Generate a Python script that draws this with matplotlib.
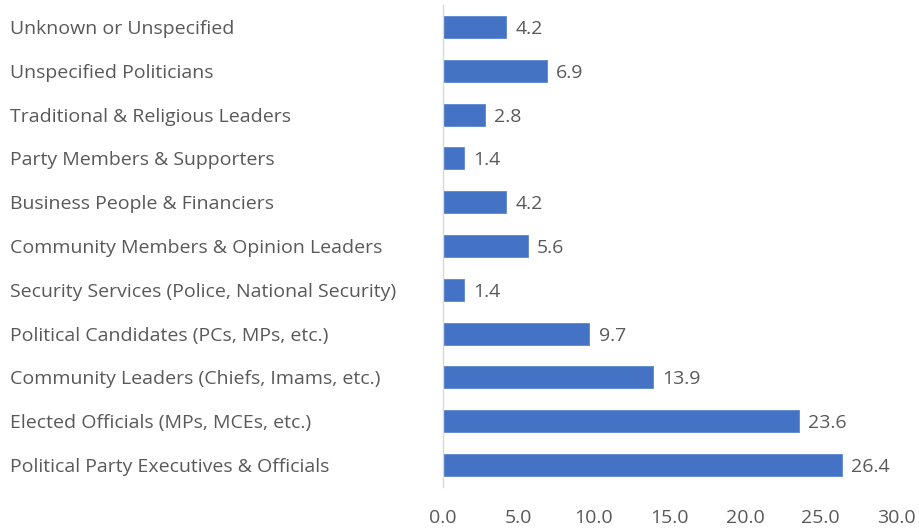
import matplotlib.pyplot as plt

categories = [
    "Political Party Executives & Officials",
    "Elected Officials (MPs, MCEs, etc.)",
    "Community Leaders (Chiefs, Imams, etc.)",
    "Political Candidates (PCs, MPs, etc.)",
    "Security Services (Police, National Security)",
    "Community Members & Opinion Leaders",
    "Business People & Financiers",
    "Party Members & Supporters",
    "Traditional & Religious Leaders",
    "Unspecified Politicians",
    "Unknown or Unspecified",
]
values = [26.4, 23.6, 13.9, 9.7, 1.4, 5.6, 4.2, 1.4, 2.8, 6.9, 4.2]
xticks = [0, 5, 10, 15, 20, 25, 30]

plt.rcParams["font.family"] = ["Open Sans", "DejaVu Sans"]
text_color = "#595959"
fs = 14

fig = plt.figure(figsize=(9.2, 5.31), dpi=100)
ax = fig.add_axes([443 / 920, 44 / 531, 453 / 920, 482 / 531])

y = range(len(categories))
ax.barh(y, values, height=0.5, color="#4472C4", edgecolor="#5B86D0", linewidth=0.6)

for yi, v in zip(y, values):
    ax.text(v + 0.6, yi, f"{v:.1f}", va="center_baseline", ha="left",
            fontsize=fs, color=text_color)

ax.set_xlim(0, 30)
ax.set_ylim(-0.5, len(categories) - 0.5)
ax.set_xticks(xticks)
ax.set_xticklabels([f"{t:.1f}" for t in xticks], fontsize=fs, color=text_color)
ax.set_yticks(list(y))
ax.set_yticklabels(categories, fontsize=fs, color=text_color, ha="left",
                   va="center_baseline")

ax.tick_params(axis="y", length=0, pad=433 * 72 / 100)
ax.tick_params(axis="x", length=0, pad=16)

for s in ["top", "right", "bottom"]:
    ax.spines[s].set_visible(False)
ax.spines["left"].set_color("#D9D9D9")
ax.spines["left"].set_linewidth(1.0)

fig.savefig("out.png", dpi=100)
